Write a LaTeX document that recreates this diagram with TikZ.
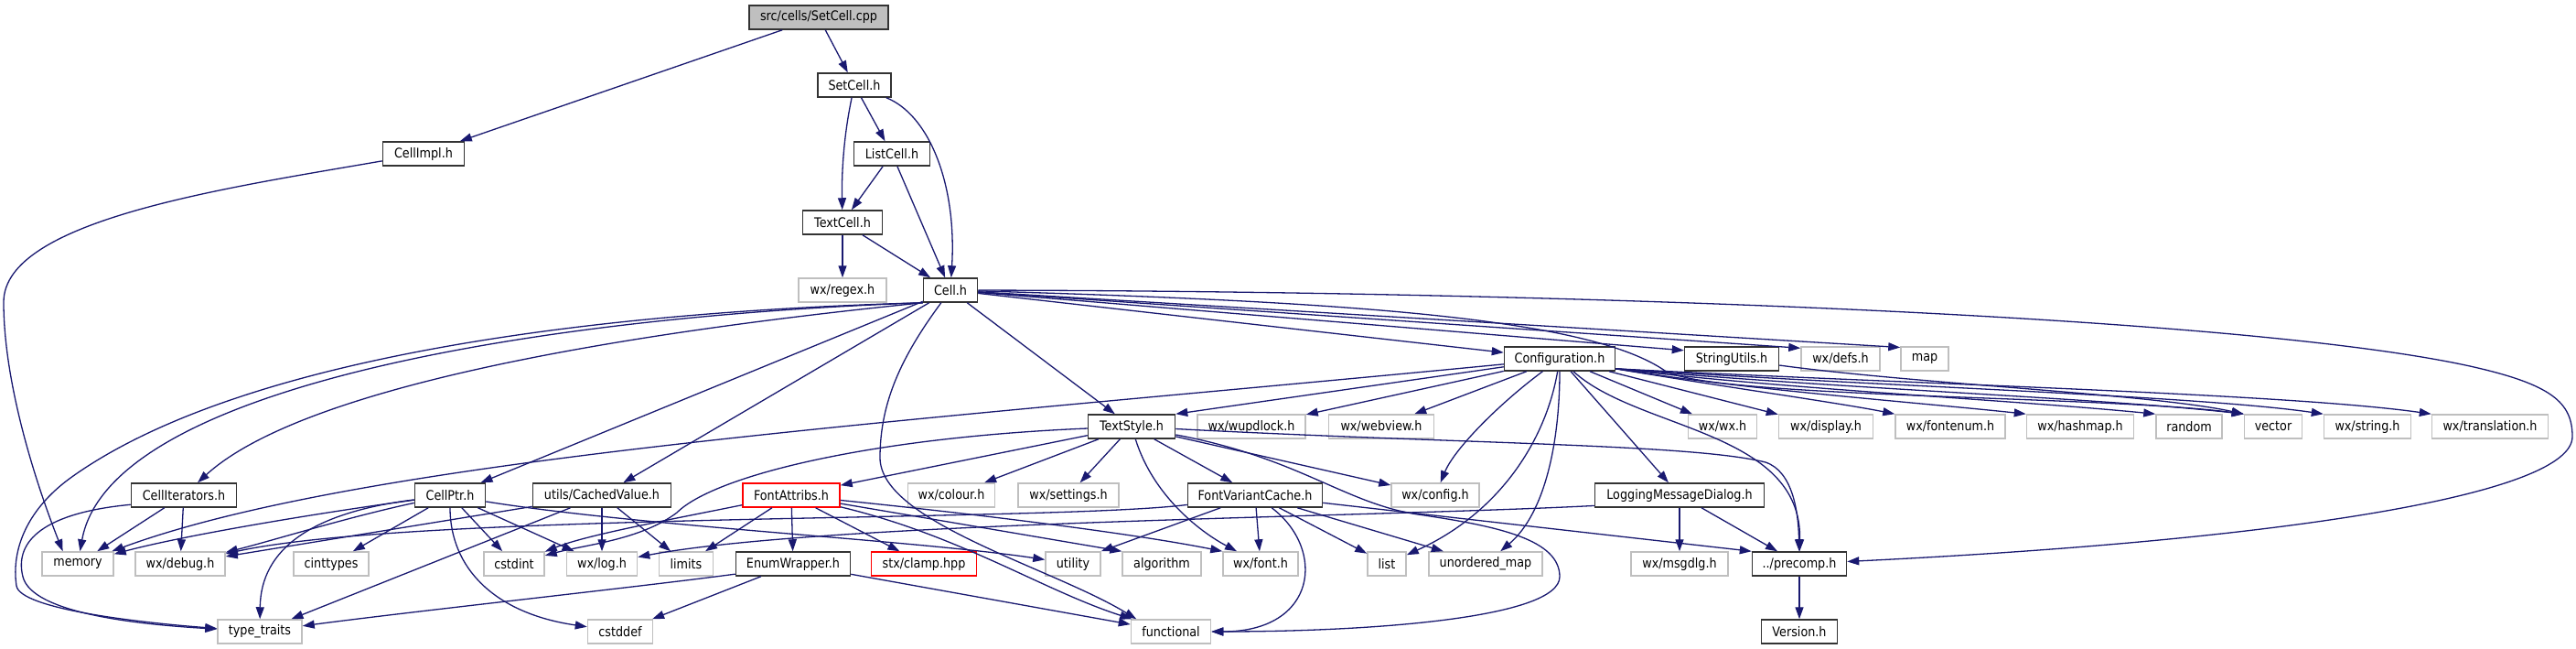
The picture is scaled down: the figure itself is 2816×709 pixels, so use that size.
\documentclass[tikz,border=0pt]{standalone}
\usepackage{fontspec}
\setmainfont{DejaVu Sans}[FakeStretch=0.88]
\usetikzlibrary{arrows.meta}
\definecolor{edgecol}{HTML}{191970}
\definecolor{extgray}{HTML}{BFBFBF}
\definecolor{rootfill}{HTML}{BFBFBF}
\definecolor{boxdark}{HTML}{333333}
\definecolor{missred}{HTML}{FF0000}
\tikzset{
  fbox/.style={rectangle, draw, inner sep=0pt, minimum height=26pt, line width=1.5pt, font=\fontsize{14.5pt}{17pt}\selectfont, text=black},
  inc/.style={fbox, draw=boxdark},
  ext/.style={fbox, draw=extgray},
  miss/.style={fbox, draw=missred},
  root/.style={fbox, draw=boxdark, fill=rootfill},
  dep/.style={draw=edgecol, line width=1.3pt, -{Triangle[length=13pt,width=9pt]}},
}
\begin{document}
\begin{tikzpicture}[x=1pt,y=-1pt]
\fill[white] (0,0) rectangle (2816,709);
\useasboundingbox (0,0) rectangle (2816,709);
% nodes
\node[root, minimum width=152pt] (cpp) at (895,19) {src/cells/SetCell.cpp};
\node[inc, minimum width=80pt] (setcellh) at (934,93) {SetCell.h};
\node[inc, minimum width=83pt] (listcell) at (975,168) {ListCell.h};
\node[inc, minimum width=87pt] (textcell) at (921,243) {TextCell.h};
\node[ext, minimum width=96pt] (regex) at (921,317) {wx/regex.h};
\node[inc, minimum width=59pt] (cellh) at (1039,317) {Cell.h};
\node[inc, minimum width=89pt] (cellimpl) at (463,168) {CellImpl.h};
\node[inc, minimum width=115pt] (celliter) at (201,541) {CellIterators.h};
\node[ext, minimum width=78pt] (memory) at (85,616) {memory};
\node[ext, minimum width=98pt] (debug) at (197,616) {wx/debug.h};
\node[ext, minimum width=82pt] (cinttypes) at (362,616) {cinttypes};
\node[inc, minimum width=77pt] (cellptr) at (492,541) {CellPtr.h};
\node[inc, minimum width=151pt] (cached) at (658,541) {utils/CachedValue.h};
\node[ext, minimum width=66pt] (cstdint) at (562,616) {cstdint};
\node[ext, minimum width=77pt] (wxlog) at (658,616) {wx/log.h};
\node[ext, minimum width=92pt] (typetraits) at (284,690) {type\_traits};
\node[ext, minimum width=71pt] (cstddef) at (678,690) {cstddef};
\node[inc, minimum width=95pt] (textstyle) at (1237,466) {TextStyle.h};
\node[ext, minimum width=118pt] (wupdlock) at (1368,466) {wx/wupdlock.h};
\node[miss, minimum width=106pt] (fontattribs) at (865,541) {FontAttribs.h};
\node[ext, minimum width=95pt] (colour) at (1040,541) {wx/colour.h};
\node[ext, minimum width=110pt] (settings) at (1168,541) {wx/settings.h};
\node[inc, minimum width=147pt] (fvc) at (1372,541) {FontVariantCache.h};
\node[ext, minimum width=59pt] (limits) at (750,616) {limits};
\node[inc, minimum width=125pt] (enumwrap) at (867,616) {EnumWrapper.h};
\node[miss, minimum width=115pt] (clamp) at (1010,616) {stx/clamp.hpp};
\node[ext, minimum width=60pt] (utility) at (1173,616) {utility};
\node[ext, minimum width=86pt] (algorithm) at (1270,616) {algorithm};
\node[ext, minimum width=82pt] (wxfont) at (1378,616) {wx/font.h};
\node[ext, minimum width=87pt] (functional) at (1280,690) {functional};
\node[inc, minimum width=121pt] (config) at (1705,392) {Configuration.h};
\node[inc, minimum width=103pt] (stringutils) at (1893,392) {StringUtils.h};
\node[ext, minimum width=86pt] (defs) at (2012,392) {wx/defs.h};
\node[ext, minimum width=52pt] (map) at (2104,392) {map};
\node[ext, minimum width=115pt] (webview) at (1510,466) {wx/webview.h};
\node[ext, minimum width=75pt] (wxwx) at (1883,466) {wx/wx.h};
\node[ext, minimum width=103pt] (display) at (1996,466) {wx/display.h};
\node[ext, minimum width=120pt] (fontenum) at (2132,466) {wx/fontenum.h};
\node[ext, minimum width=117pt] (hashmap) at (2274,466) {wx/hashmap.h};
\node[ext, minimum width=72pt] (random) at (2393,466) {random};
\node[ext, minimum width=63pt] (vector) at (2485,466) {vector};
\node[ext, minimum width=95pt] (wxstring) at (2588,466) {wx/string.h};
\node[ext, minimum width=127pt] (translation) at (2722,466) {wx/translation.h};
\node[ext, minimum width=96pt] (wxconfig) at (1569,541) {wx/config.h};
\node[inc, minimum width=185pt] (logging) at (1836,541) {LoggingMessageDialog.h};
\node[ext, minimum width=42pt] (list) at (1516,616) {list};
\node[ext, minimum width=124pt] (umap) at (1624,616) {unordered\_map};
\node[ext, minimum width=106pt] (msgdlg) at (1836,616) {wx/msgdlg.h};
\node[inc, minimum width=103pt] (precomp) at (1967,616) {../precomp.h};
\node[inc, minimum width=83pt] (version) at (1967,690) {Version.h};
% top part
\draw[dep] (cpp) -- (setcellh);
\draw[dep] (cpp) -- (cellimpl);
\draw[dep] (setcellh) -- (listcell);
\draw[dep] (setcellh) .. controls (922,150) and (920,190) .. (textcell);
\draw[dep] (setcellh) .. controls (1015,125) and (1046,200) .. (cellh);
\draw[dep] (listcell) -- (textcell);
\draw[dep] (listcell) -- (cellh);
\draw[dep] (textcell) -- (cellh);
\draw[dep] (textcell) -- (regex);
\draw[dep] (cellimpl) .. controls (250,205) and (4,240) .. (4,330) .. controls (4,420) and (40,530) .. (memory.140);
% Cell.h
\draw[dep] (cellh.south west) .. controls (800,352) and (350,405) .. (celliter);
\draw[dep] (cellh.south west) .. controls (600,345) and (120,420) .. (memory);
\draw[dep] (cellh.south west) .. controls (600,342) and (250,400) .. (80,520) .. controls (30,555) and (12,600) .. (18,640) .. controls (22,665) and (150,680) .. (typetraits);
\draw[dep] (cellh) -- (cellptr);
\draw[dep] (cellh) -- (cached);
\draw[dep] (cellh) .. controls (985,390) and (962,440) .. (962,500) .. controls (962,570) and (1150,620) .. (functional.160);
\draw[dep] (cellh) -- (textstyle);
\draw[dep] (cellh) -- (config);
\draw[dep] (cellh) -- (stringutils.170);
\draw[dep] (cellh) -- (defs.165);
\draw[dep] (cellh) -- (map.155);
\draw[dep] (cellh) .. controls (1700,318) and (2450,345) .. (2700,400) .. controls (2790,420) and (2812,440) .. (2812,477) .. controls (2812,540) and (2500,590) .. (precomp);
\draw[dep] (cellh) .. controls (1500,330) and (1740,350) .. (1820,405) .. controls (1870,435) and (2300,432) .. (vector.north west);
% CellIterators
\draw[dep] (celliter) -- (memory);
\draw[dep] (celliter) -- (debug);
\draw[dep] (celliter.190) .. controls (50,560) and (15,590) .. (25,630) .. controls (35,670) and (150,682) .. (typetraits);
% CellPtr
\draw[dep] (cellptr) .. controls (350,560) and (200,585) .. (memory);
\draw[dep] (cellptr) .. controls (380,565) and (300,590) .. (debug);
\draw[dep] (cellptr) -- (cinttypes);
\draw[dep] (cellptr) -- (cstdint);
\draw[dep] (cellptr) -- (wxlog);
\draw[dep] (cellptr) .. controls (492,620) and (540,670) .. (cstddef);
\draw[dep] (cellptr) .. controls (340,560) and (285,600) .. (typetraits);
\draw[dep] (cellptr.-10) .. controls (700,575) and (1000,590) .. (utility);
% CachedValue
\draw[dep] (cached) -- (wxlog);
\draw[dep] (cached) -- (limits);
\draw[dep] (cached) -- (typetraits);
\draw[dep] (cached) -- (debug);
% Configuration
\draw[dep] (config) -- (textstyle.north east);
\draw[dep] (config) -- (wupdlock);
\draw[dep] (config) -- (webview);
\draw[dep] (config) .. controls (1640,440) and (1590,490) .. (wxconfig);
\draw[dep] (config) .. controls (1690,480) and (1640,560) .. (list);
\draw[dep] (config) .. controls (1705,480) and (1690,560) .. (umap);
\draw[dep] (config) -- (logging);
\draw[dep] (config) .. controls (1790,470) and (1970,470) .. (precomp);
\draw[dep] (config) -- (wxwx);
\draw[dep] (config) -- (display);
\draw[dep] (config.-10) .. controls (1880,422) and (2010,440) .. (fontenum.north west);
\draw[dep] (config.-10) .. controls (1900,425) and (2100,440) .. (hashmap.north west);
\draw[dep] (config.-10) .. controls (1950,425) and (2200,437) .. (random.north west);
\draw[dep] (config.-10) .. controls (2000,424) and (2300,435) .. (vector.north west);
\draw[dep] (config.-10) .. controls (2050,422) and (2400,432) .. (wxstring.north west);
\draw[dep] (config.-10) .. controls (2100,420) and (2500,430) .. (translation.north west);
\draw[dep] (config) .. controls (1000,460) and (400,500) .. (memory);
% StringUtils
\draw[dep] (stringutils) .. controls (2100,420) and (2350,430) .. (vector.north west);
% TextStyle
\draw[dep] (textstyle) -- (fontattribs);
\draw[dep] (textstyle) -- (colour);
\draw[dep] (textstyle) -- (settings);
\draw[dep] (textstyle) -- (fvc);
\draw[dep] (textstyle) .. controls (1260,540) and (1310,580) .. (wxfont);
\draw[dep] (textstyle) .. controls (950,478) and (780,520) .. (740,560) .. controls (700,590) and (640,595) .. (cstdint);
\draw[dep] (textstyle) -- (wxconfig);
\draw[dep] (textstyle) .. controls (1600,485) and (1850,485) .. (1930,505) .. controls (1960,515) and (1966,560) .. (precomp);
\draw[dep] (textstyle) .. controls (1420,500) and (1470,550) .. (1550,562) .. controls (1640,575) and (1705,590) .. (1705,630) .. controls (1705,675) and (1500,690) .. (functional);
% FontAttribs
\draw[dep] (fontattribs) .. controls (720,570) and (640,585) .. (cstdint);
\draw[dep] (fontattribs) -- (limits);
\draw[dep] (fontattribs) -- (enumwrap);
\draw[dep] (fontattribs) -- (clamp);
\draw[dep] (fontattribs) .. controls (1100,565) and (1250,585) .. (wxfont.north west);
\draw[dep] (fontattribs) -- (algorithm.north west);
\draw[dep] (fontattribs) .. controls (1050,585) and (1140,645) .. (functional);
% EnumWrapper
\draw[dep] (enumwrap.190) .. controls (700,641) and (450,668) .. (typetraits);
\draw[dep] (enumwrap) -- (cstddef);
\draw[dep] (enumwrap) -- (functional);
% FontVariantCache
\draw[dep] (fvc) -- (wxfont);
\draw[dep] (fvc) -- (utility.north east);
\draw[dep] (fvc) -- (list);
\draw[dep] (fvc) -- (umap);
\draw[dep] (fvc) .. controls (1450,600) and (1440,690) .. (functional);
\draw[dep] (fvc) -- (precomp.north west);
\draw[dep] (fvc.188) .. controls (1150,570) and (450,560) .. (debug);
% LoggingMessageDialog
\draw[dep] (logging) -- (msgdlg);
\draw[dep] (logging) -- (precomp);
\draw[dep] (logging.187) .. controls (1500,565) and (900,570) .. (wxlog);
% precomp
\draw[dep] (precomp) -- (version);
\end{tikzpicture}
\end{document}
